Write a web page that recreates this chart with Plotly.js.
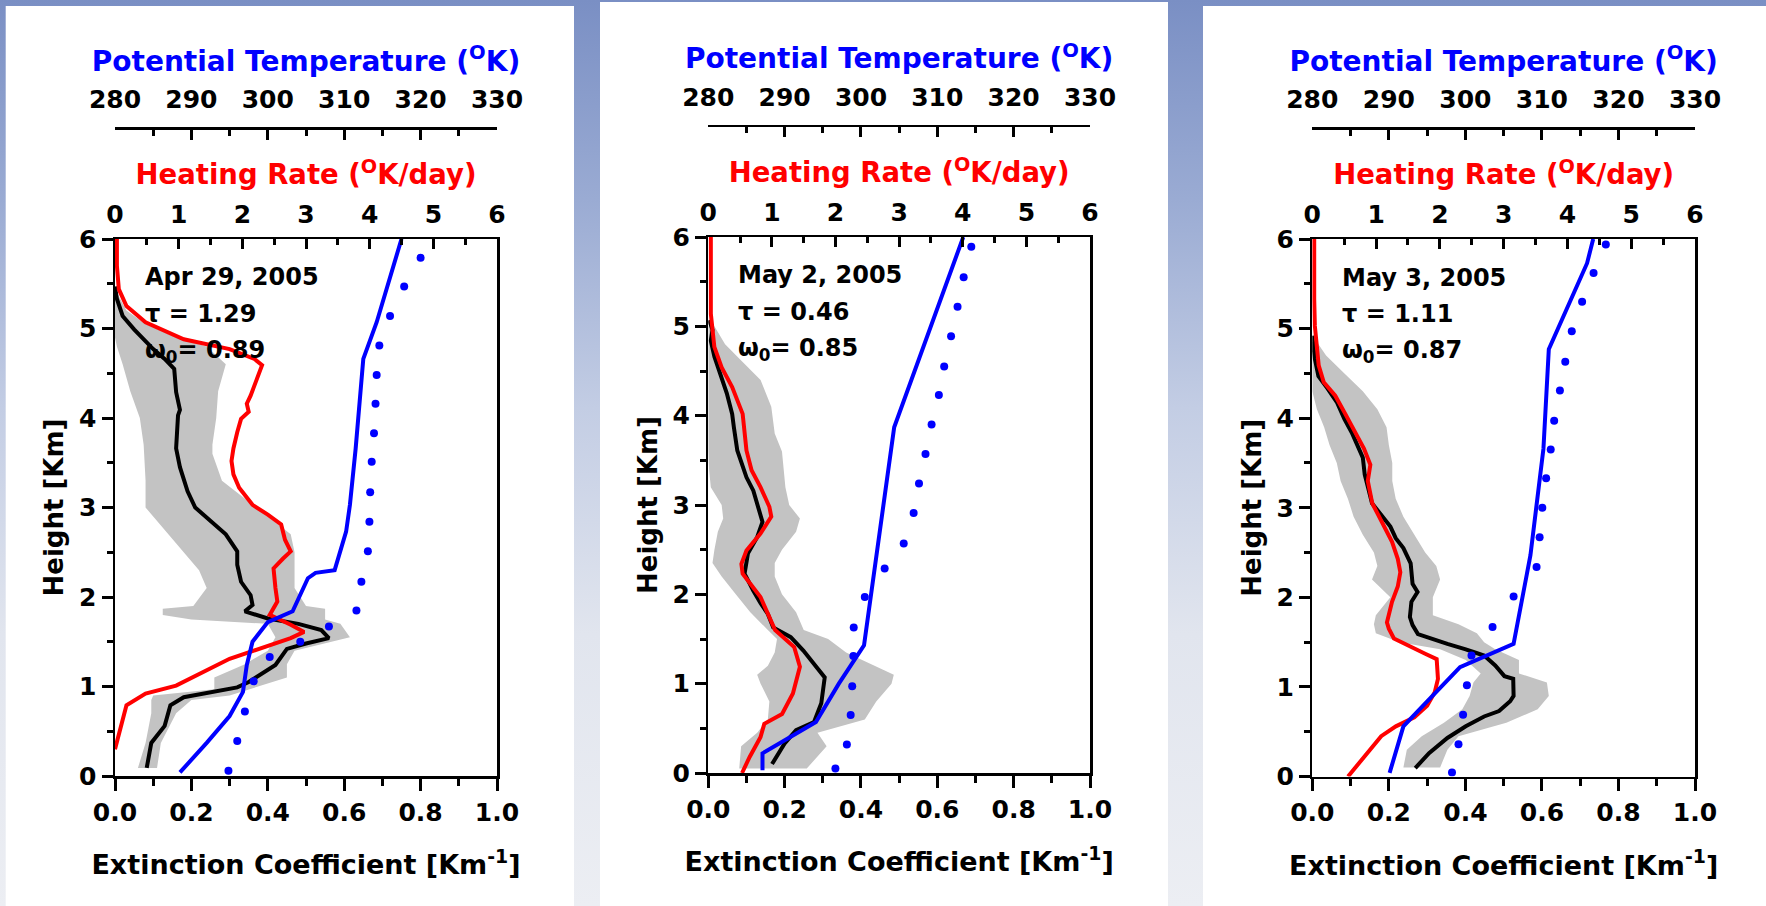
<!DOCTYPE html>
<html>
<head>
<meta charset="utf-8">
<script src="https://cdn.plot.ly/plotly-3.0.1.min.js"></script>
<style>
html,body{margin:0;padding:0;width:1766px;height:906px;overflow:hidden;
background:linear-gradient(180deg,#7a8fc4 0%,#9aabd3 22%,#c3cde4 45%,#e1e5ee 70%,#eceef3 100%);}
#chart{width:1766px;height:906px;}
</style>
</head>
<body>
<div id="chart"></div>
<script>
// ---------- Data ----------
const dates  = ["Apr 29, 2005", "May 2, 2005", "May 3, 2005"];
const taus   = ["1.29", "0.46", "1.11"];
const omegas = ["0.89", "0.85", "0.87"];

// Panel 1 (Apr 29, 2005)
const blackY1 = [0.09,0.37,0.56,0.79,0.88,0.94,0.99,1.05,1.24,1.42,1.48,1.54,1.63,1.70,1.76,1.84,1.91,2.02,2.17,2.36,2.51,2.70,2.85,3.00,3.18,3.45,3.66,4.03,4.09,4.29,4.55,4.66,4.77,4.99,5.14,5.33,5.47];
const blackX1 = [0.083,0.095,0.13,0.145,0.18,0.26,0.32,0.35,0.42,0.45,0.50,0.56,0.54,0.48,0.40,0.34,0.36,0.355,0.33,0.32,0.32,0.29,0.25,0.21,0.19,0.17,0.16,0.165,0.17,0.16,0.155,0.13,0.10,0.05,0.02,0.005,0.0];
const redY1  = [0.30,0.79,0.92,1.01,1.31,1.46,1.54,1.61,1.69,1.80,1.95,2.10,2.32,2.43,2.51,2.64,2.81,2.92,3.03,3.22,3.37,3.52,3.66,3.84,3.99,4.07,4.16,4.25,4.36,4.47,4.59,4.66,4.77,4.88,5.07,5.25,5.44,5.70,6.0];
const redHR1 = [0,0.18,0.48,0.96,1.8,2.4,2.76,2.97,2.76,2.43,2.55,2.52,2.49,2.64,2.76,2.67,2.61,2.4,2.16,1.95,1.86,1.83,1.86,1.92,1.98,2.1,2.07,2.13,2.19,2.25,2.31,2.19,1.8,1.08,0.48,0.18,0.06,0.03,0.03];
const blueY1 = [0.04,0.37,0.67,0.94,1.24,1.50,1.72,1.84,2.21,2.27,2.30,2.73,3.03,3.66,4.66,5.07,6.0];
const blueT1 = [288.5,292,295,296.75,297.25,298,300,303.25,305.25,306.25,308.75,310.25,310.75,311.5,312.5,314.25,317.5];
const dotY1  = [0.06,0.39,0.72,1.06,1.33,1.50,1.67,1.85,2.17,2.51,2.84,3.17,3.51,3.83,4.16,4.48,4.81,5.14,5.47,5.79];
const dotT1  = [294.85,296,297,298.15,300.25,304.25,308,311.6,312.25,313.1,313.3,313.4,313.6,313.9,314.1,314.25,314.6,316,317.85,320];
const bandY1 = [0.09,0.37,0.70,0.85,0.90,0.97,1.10,1.25,1.40,1.55,1.70,1.75,1.80,1.87,1.90,2.10,2.30,2.50,2.70,2.90,3.00,3.30,3.60,3.70,4.00,4.30,4.60,4.80,4.90,5.05,5.20,5.40];
const bandL1 = [0.06,0.08,0.095,0.095,0.10,0.26,0.26,0.34,0.40,0.42,0.40,0.20,0.125,0.125,0.205,0.24,0.22,0.18,0.14,0.10,0.08,0.08,0.075,0.075,0.065,0.04,0.02,0.005,0,0,0,0];
const bandR1 = [0.11,0.12,0.16,0.20,0.30,0.35,0.45,0.45,0.47,0.615,0.59,0.55,0.55,0.55,0.50,0.47,0.47,0.47,0.46,0.40,0.37,0.28,0.255,0.255,0.265,0.27,0.29,0.24,0.16,0.08,0.03,0.005];

// Panel 2 (May 2, 2005)
const blackY2 = [0.10,0.33,0.48,0.57,0.78,0.93,1.07,1.22,1.37,1.52,1.63,1.78,1.90,2.04,2.23,2.46,2.64,2.81,3.01,3.16,3.31,3.61,3.87,4.02,4.25,4.47,4.66,4.84,4.96,5.07];
const blackX2 = [0.167,0.20,0.23,0.277,0.296,0.30,0.305,0.277,0.249,0.216,0.17,0.156,0.137,0.118,0.095,0.104,0.128,0.142,0.128,0.118,0.10,0.076,0.067,0.0625,0.0485,0.03,0.016,0.0065,0.011,0.002];
const redY2  = [0,0.18,0.40,0.55,0.66,0.89,1.19,1.41,1.60,1.75,1.97,2.23,2.34,2.49,2.68,2.87,2.98,3.20,3.39,3.61,3.87,4.02,4.32,4.54,4.77,4.96,5.14,6.0];
const redHR2 = [0.53,0.65,0.82,0.88,1.16,1.33,1.44,1.35,1.05,0.96,0.82,0.54,0.52,0.60,0.82,0.99,0.96,0.82,0.68,0.60,0.57,0.54,0.375,0.21,0.095,0.07,0.04,0.04];
const blueY2 = [0.03,0.22,0.57,1.0,1.43,3.87,6.0];
const blueT2 = [287.1,287.1,294.1,297.1,300.4,304.35,313.4];
const dotY2  = [0.05,0.32,0.65,0.97,1.31,1.63,1.97,2.29,2.57,2.91,3.24,3.57,3.90,4.23,4.55,4.89,5.22,5.55,5.89];
const dotT2  = [296.65,298.15,298.65,298.85,299,299.05,300.5,303.1,305.6,306.9,307.6,308.45,309.25,310.2,310.9,311.8,312.65,313.45,314.45];
const bandY2 = [0.05,0.30,0.45,0.60,0.80,1.00,1.10,1.20,1.35,1.50,1.60,1.80,2.00,2.20,2.35,2.50,2.70,2.85,3.00,3.20,3.40,3.60,3.80,4.10,4.40,4.60,4.80,5.00];
const bandL2 = [0.081,0.086,0.128,0.156,0.16,0.137,0.128,0.156,0.174,0.18,0.156,0.11,0.072,0.035,0.011,0.016,0.025,0.039,0.035,0.0065,0.002,0,0,0,0,0,0,0];
const bandR2 = [0.258,0.31,0.286,0.41,0.44,0.48,0.486,0.435,0.361,0.314,0.25,0.23,0.193,0.174,0.174,0.193,0.23,0.24,0.212,0.202,0.198,0.193,0.174,0.165,0.137,0.09,0.044,0.016];

// Panel 3 (May 3, 2005)
const blackY3 = [0.094,0.26,0.43,0.56,0.67,0.73,0.84,0.90,1.09,1.12,1.24,1.35,1.39,1.42,1.48,1.54,1.59,1.69,1.78,1.95,2.06,2.15,2.38,2.55,2.66,2.79,2.92,3.05,3.22,3.37,3.56,3.66,3.84,3.99,4.18,4.33,4.47,4.66,4.84,4.92];
const blackX3 = [0.269,0.305,0.353,0.401,0.449,0.488,0.517,0.526,0.525,0.502,0.478,0.449,0.421,0.401,0.353,0.315,0.276,0.262,0.255,0.259,0.275,0.262,0.257,0.238,0.218,0.204,0.18,0.156,0.146,0.137,0.132,0.122,0.103,0.084,0.064,0.040,0.016,0.0067,0.002,0];
const redY3  = [0,0.15,0.30,0.45,0.56,0.66,0.79,0.94,1.09,1.31,1.37,1.48,1.54,1.65,1.72,1.95,2.12,2.28,2.43,2.62,2.85,3.05,3.30,3.48,3.66,3.84,4.07,4.25,4.40,4.59,4.81,5.03,5.33,6.0];
const redHR3 = [0.56,0.73,0.91,1.08,1.31,1.6,1.8,1.92,1.97,1.95,1.77,1.43,1.28,1.2,1.17,1.25,1.34,1.38,1.34,1.25,1.08,0.94,0.87,0.91,0.81,0.68,0.50,0.36,0.18,0.10,0.07,0.04,0.03,0.03];
const blueY3 = [0.04,0.56,0.90,1.22,1.48,2.47,3.66,4.77,5.73,6.0];
const blueT3 = [290.1,291.9,295.7,299.3,306.3,308.5,310.2,310.9,315.9,316.7];
const dotY3  = [0.045,0.36,0.69,1.02,1.35,1.67,2.01,2.34,2.67,3.0,3.33,3.65,3.97,4.31,4.63,4.97,5.30,5.62,5.94];
const dotT3  = [298.25,299.1,299.7,300.2,300.8,303.55,306.3,309.3,309.7,310.05,310.55,311.15,311.6,312.35,313.05,313.9,315.25,316.75,318.35];
const bandY3 = [0.10,0.30,0.45,0.60,0.75,0.90,1.05,1.15,1.30,1.42,1.50,1.60,1.70,1.80,2.00,2.20,2.35,2.50,2.70,2.90,3.10,3.30,3.50,3.70,3.90,4.10,4.30,4.50,4.70,4.85];
const bandL3 = [0.238,0.247,0.286,0.344,0.392,0.411,0.421,0.44,0.401,0.334,0.228,0.166,0.161,0.166,0.204,0.156,0.170,0.161,0.132,0.108,0.093,0.074,0.064,0.045,0.031,0.012,0,0,0,0];
const bandR3 = [0.334,0.353,0.382,0.507,0.589,0.618,0.613,0.54,0.54,0.478,0.449,0.430,0.382,0.315,0.315,0.334,0.324,0.295,0.267,0.238,0.218,0.209,0.209,0.20,0.194,0.17,0.132,0.084,0.036,0.012];

// Axis ranges
const extRange = [0, 1], hrRange = [0, 6], thetaRange = [280, 330], hRange = [0, 6];

// ---------- Layout geometry (pixels in the 1766x906 page) ----------
const W = 1766, H = 906;
const panels = [
  {x0:115,   x1:497,  top:239, bot:776,   thetaY:128.3, white:[5.7,574,6]},
  {x0:708.3, x1:1090, top:237, bot:773,   thetaY:125.5, white:[600,1168,2]},
  {x0:1312.3,x1:1695, top:239, bot:776.5, thetaY:128.3, white:[1203,1766,6]}
];
const series = [
  {bY:blackY1,bX:blackX1,rY:redY1,rX:redHR1,uY:blueY1,uX:blueT1,dY:dotY1,dX:dotT1,gY:bandY1,gL:bandL1,gR:bandR1},
  {bY:blackY2,bX:blackX2,rY:redY2,rX:redHR2,uY:blueY2,uX:blueT2,dY:dotY2,dX:dotT2,gY:bandY2,gL:bandL2,gR:bandR2},
  {bY:blackY3,bX:blackX3,rY:redY3,rX:redHR3,uY:blueY3,uX:blueT3,dY:dotY3,dX:dotT3,gY:bandY3,gL:bandL3,gR:bandR3}
];
const FONT = 'DejaVu Sans';
const textLineY = [5.57, 5.16, 4.74];
const textX = 0.073;

const traces = [];
const layout = {
  width: W, height: H,
  margin: {l:0, r:0, t:0, b:0},
  paper_bgcolor: 'rgba(0,0,0,0)',
  plot_bgcolor: 'rgba(0,0,0,0)',
  showlegend: false,
  font: {family: FONT, weight: 700, color: '#000', size: 25},
  shapes: [], annotations: []
};

function tf(size, color) { return {family: FONT, weight: 700, size: size, color: color || '#000'}; }

panels.forEach((p, i) => {
  const s = series[i];
  const xe = 'x' + (3*i + 1), xh = 'x' + (3*i + 2), xt = 'x' + (3*i + 3), yy = i === 0 ? 'y' : 'y' + (i + 1);
  const key = id => id.replace('x', 'xaxis').replace(/^xaxis1$/, 'xaxis').replace('y', 'yaxis').replace(/^yaxis1$/, 'yaxis');
  const xd = [p.x0 / W, p.x1 / W];
  const yd = [1 - p.bot / H, 1 - p.top / H];

  layout.shapes.push({type:'rect', xref:'paper', yref:'paper', layer:'below',
    x0:p.white[0]/W, x1:p.white[1]/W, y0:0, y1:1 - p.white[2]/H,
    fillcolor:'#ffffff', line:{width:0}});

  const common = {showgrid:false, zeroline:false, showline:true, linewidth:2.5, linecolor:'#000',
    tickwidth:3, tickcolor:'#000', automargin:false, fixedrange:true};
  const minorT = (len, dir, dt) => ({dtick: dt, ticks: dir, ticklen: len, tickwidth: 3, tickcolor: '#000', showgrid: false});

  layout[key(xe)] = Object.assign({}, common, {
    domain: xd, anchor: yy, range: extRange, dtick: 0.2, tick0: 0, tickformat: '.1f',
    ticks: 'outside', ticklen: 12, minor: minorT(7, 'outside', 0.1),
    tickfont: tf(25),
    title: {text: 'Extinction Coefficient [Km<sup>-1</sup>]', font: tf(27), standoff: 30}
  });
  layout[key(xh)] = Object.assign({}, common, {
    domain: xd, anchor: yy, overlaying: xe, side: 'top', range: hrRange, dtick: 1, tick0: 0,
    ticks: 'inside', ticklen: 10, ticklabelstandoff: 4, minor: minorT(6, 'inside', 0.5),
    tickfont: tf(25),
    title: {text: 'Heating Rate (<sup>O</sup>K/day)', font: tf(27.5, '#ff0000'), standoff: 7}
  });
  layout[key(xt)] = Object.assign({}, common, {
    domain: xd, anchor: 'free', position: 1 - p.thetaY / H, overlaying: xe, side: 'top',
    range: thetaRange, dtick: 10, tick0: 280,
    ticks: 'inside', ticklen: 10, ticklabelstandoff: 9, minor: minorT(6, 'inside', 5),
    tickfont: tf(25),
    title: {text: 'Potential Temperature (<sup>O</sup>K)', font: tf(28, '#0000ff'), standoff: 4}
  });
  layout[key(yy)] = Object.assign({}, common, {
    domain: yd, anchor: xe, range: hRange, dtick: 1, tick0: 0, mirror: true,
    ticks: 'outside', ticklen: 11, minor: minorT(6, 'outside', 0.5),
    tickfont: tf(25),
    title: {text: 'Height [Km]', font: tf(26), standoff: 8}
  });

  // gray uncertainty band
  traces.push({type:'scatter', mode:'lines', xaxis:xe, yaxis:yy,
    x: s.gL.concat(s.gR.slice().reverse()), y: s.gY.concat(s.gY.slice().reverse()),
    fill:'toself', fillcolor:'#c3c3c3', line:{width:0, color:'#c3c3c3'}, hoverinfo:'skip'});
  // extinction coefficient
  traces.push({type:'scatter', mode:'lines', xaxis:xe, yaxis:yy, x:s.bX, y:s.bY,
    line:{color:'#000000', width:4}});
  // heating rate
  traces.push({type:'scatter', mode:'lines', xaxis:xh, yaxis:yy, x:s.rX, y:s.rY,
    line:{color:'#ff0000', width:4}});
  // potential temperature (solid)
  traces.push({type:'scatter', mode:'lines', xaxis:xt, yaxis:yy, x:s.uX, y:s.uY,
    line:{color:'#0000ff', width:4}});
  // potential temperature (dotted)
  traces.push({type:'scatter', mode:'markers', xaxis:xt, yaxis:yy, x:s.dX, y:s.dY,
    marker:{color:'#0000ff', size:8, line:{width:0}}, cliponaxis:true});

  const lines = [dates[i], '\u03c4 = ' + taus[i], '\u03c9<sub>0</sub>= ' + omegas[i]];
  lines.forEach((t, k) => {
    layout.annotations.push({xref:xe, yref:yy, x:textX, y:textLineY[k], text:t,
      xanchor:'left', yanchor:'middle', showarrow:false, font:tf(24)});
  });
});

Plotly.newPlot('chart', traces, layout, {displayModeBar:false, staticPlot:true});
</script>
</body>
</html>
